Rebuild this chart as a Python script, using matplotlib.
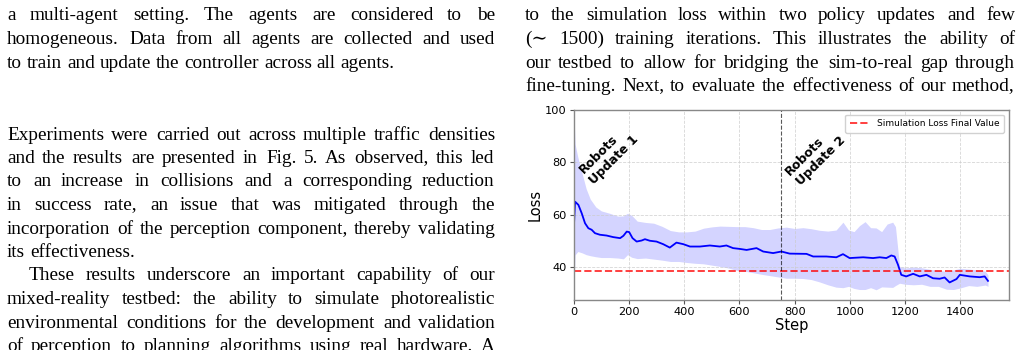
import math
import matplotlib
matplotlib.use('Agg')
import matplotlib.pyplot as plt
from matplotlib.transforms import IdentityTransform
from matplotlib.font_manager import FontProperties

# ---------------- data ----------------
mean_steps = [0, 5, 11, 17, 29, 41, 53, 65, 77, 95, 119, 143, 168, 180, 192,
              201, 213, 228, 246, 258, 276, 300, 324, 348, 372, 397, 421, 457,
              493, 529, 553, 577, 601, 626, 662, 686, 722, 752, 782, 843, 867,
              915, 951, 975, 999, 1048, 1084, 1108, 1132, 1150, 1162, 1174,
              1186, 1204, 1229, 1253, 1277, 1301, 1325, 1343, 1361, 1386, 1398,
              1434, 1470, 1488, 1500]
mean_loss = [54, 65, 64.4, 63.8, 60.6, 56.8, 54.9, 54.3, 53, 52.4, 52.1, 51.5,
             51.1, 52, 53.6, 53.4, 51.1, 49.8, 50.2, 50.7, 50.1, 49.8, 48.8,
             47.5, 49.4, 48.8, 47.9, 47.9, 48.3, 47.9, 48.3, 47.3, 47.0, 46.6,
             47.3, 46.0, 45.4, 46, 45.2, 45.1, 44.1, 44.1, 43.8, 45.0, 43.5,
             43.8, 43.5, 43.8, 43.5, 44.5, 44.1, 41, 37.1, 36.5, 37.5, 36.5,
             37.1, 35.8, 35.6, 36.1, 34.2, 35.5, 37.1, 36.5, 36.2, 36.5, 34.8]

band_steps = [0, 5, 15, 30, 45, 60, 80, 100, 130, 160, 180, 195, 210, 230, 260,
              290, 320, 350, 380, 410, 440, 470, 500, 530, 560, 590, 620, 650,
              680, 710, 740, 770, 800, 830, 860, 890, 920, 950, 975, 995, 1015,
              1035, 1055, 1075, 1095, 1115, 1135, 1155, 1165, 1180, 1200, 1230,
              1260, 1290, 1320, 1350, 1375, 1400, 1430, 1460, 1490, 1500]
band_upper = [102, 87, 82, 76, 70, 66, 63, 61.5, 60.6, 59.5, 59.6, 60.6, 59.8,
              57.6, 57.1, 56.8, 55.6, 54, 53.5, 53.5, 53.8, 54.9, 55.4, 55.7,
              55.6, 55.5, 55.5, 55.1, 54.4, 54.4, 55, 55.3, 54.8, 55.1, 54.7,
              54.1, 53.8, 54.2, 57.2, 54.2, 53.6, 55.9, 57.4, 55.1, 55, 53.6,
              56.5, 57.2, 55.5, 40.3, 39.7, 40.1, 39.8, 39.2, 38.8, 38.4, 39,
              39.6, 39.3, 39, 38.5, 37.1]
band_lower = [30, 44.7, 46, 45.5, 44.8, 44.4, 44, 43.7, 43.7, 43.5, 43.2, 44.8,
              43.8, 43.3, 43.5, 43.1, 42.7, 42.2, 42.2, 41.8, 41.5, 41.3, 40.8,
              40.3, 39.7, 38.8, 38.5, 37.9, 37.3, 36.8, 36.3, 35.8, 35.8, 35.7,
              35.3, 34.4, 33.3, 32.4, 32.2, 32.7, 31.9, 31.5, 31.5, 32.2, 31.4,
              32.5, 32.4, 32.3, 33, 33.9, 33.5, 33.3, 33.5, 32.7, 32.7, 31.6,
              31.5, 32.1, 33, 32.7, 33.2, 32.7]

sim_final_loss = 38.6
update_steps = [750]
update_labels = ["Robots\nUpdate 1", "Robots\nUpdate 2"]
update_label_pos = [(128, 83), (876, 82.5)]
x_ticks = [0, 200, 400, 600, 800, 1000, 1200, 1400]
y_ticks = [40, 60, 80, 100]

left_col_a = [
    ("a multi-agent setting. The agents are considered to be", True, 0),
    ("homogeneous. Data from all agents are collected and used", True, 0),
    ("to train and update the controller across all agents.", False, 0),
]
left_col_b = [
    ("Experiments were carried out across multiple traffic densities", True, 0),
    ("and the results are presented in Fig. 5. As observed, this led", True, 0),
    ("to an increase in collisions and a corresponding reduction", True, 0),
    ("in success rate, an issue that was mitigated through the", True, 0),
    ("incorporation of the perception component, thereby validating", True, 0),
    ("its effectiveness.", False, 0),
    ("These results underscore an important capability of our", True, 22),
    ("mixed-reality testbed: the ability to simulate photorealistic", True, 0),
    ("environmental conditions for the development and validation", True, 0),
    ("of perception to planning algorithms using real hardware. A", True, 0),
]
right_col = [
    ("to the simulation loss within two policy updates and few", True, 0),
    ("(\u223c 1500) training iterations. This illustrates the ability of", True, 0),
    ("our testbed to allow for bridging the sim-to-real gap through", True, 0),
    ("fine-tuning. Next, to evaluate the effectiveness of our method,", True, 0),
]

# ---------------- figure ----------------
W, H = 1022, 350
fig = plt.figure(figsize=(W / 100, H / 100), dpi=100)
renderer = fig.canvas.get_renderer()
BODY_FAMILY = ['Liberation Serif', 'DejaVu Serif']
BODY_SIZE = 13.9
BODY = dict(family=BODY_FAMILY, size=BODY_SIZE, color='black')
IDT = IdentityTransform()
PROP = FontProperties(family=BODY_FAMILY, size=BODY_SIZE)


def text_width(s):
    t = fig.text(0, 0, s, transform=IDT, **BODY)
    w = t.get_window_extent(renderer).width
    t.remove()
    return w


def baseline_shift(word):
    """Offset so that Agg's per-word pixel rounding puts every glyph baseline on the same row."""
    try:
        from matplotlib.font_manager import fontManager, get_font
        from matplotlib.backends.backend_agg import get_hinting_flag
        font = get_font(fontManager._find_fonts_by_props(PROP))
        font.clear()
        font.set_size(PROP.get_size_in_points(), fig.dpi)
        font.set_text(word, 0, flags=get_hinting_flag())
        _, h26 = font.get_width_height()
        d26 = font.get_descent()
        d = d26 / 64.0
        ymax = (h26 - d26) / 64.0
        return math.floor(h26 / 64.0) - math.floor(ymax) - d
    except Exception:
        return 0.0


SPACE = text_width('a a') - text_width('aa')


def draw_line(s, x0, x1, baseline, justify, indent):
    words = s.split(' ')
    widths = [text_width(w) for w in words]
    x0 = x0 + indent
    if justify and len(words) > 1:
        gap = (x1 - x0 - sum(widths)) / (len(words) - 1)
    else:
        gap = SPACE
    x = x0
    bt = round(baseline)
    for w, wd in zip(words, widths):
        ytop = bt + baseline_shift(w)
        fig.text(round(x), H - ytop, w, transform=IDT, ha='left', va='baseline', **BODY)
        x += wd + gap


LS = 23.5
for i, (s, j, ind) in enumerate(left_col_a):
    draw_line(s, 7, 495, 20.5 + i * LS, j, ind)
for i, (s, j, ind) in enumerate(left_col_b):
    draw_line(s, 7, 495, 139.5 + i * LS, j, ind)
for i, (s, j, ind) in enumerate(right_col):
    draw_line(s, 525, 1015, 20.5 + i * LS, j, ind)

# ---------------- chart ----------------
ax = fig.add_axes([573.7 / W, 50 / H, 435 / W, 190 / H])
ax.fill_between(band_steps, band_lower, band_upper, color='blue', alpha=0.17, linewidth=0)
ax.plot(mean_steps, mean_loss, color='blue', linewidth=1.3)
ax.axhline(sim_final_loss, color='red', alpha=0.75, linestyle='--', linewidth=1.4,
           label='Simulation Loss Final Value')
for s in update_steps:
    ax.axvline(s, color='black', alpha=0.65, linestyle='--', linewidth=0.8)
for lab, (px, py) in zip(update_labels, update_label_pos):
    ax.text(px, py, lab, rotation=45, ha='center', va='center', multialignment='left',
            fontsize=9, fontweight='bold', family='DejaVu Sans')

ax.set_xlim(0, 1575)
ax.set_ylim(27.5, 100)
ax.set_xticks(x_ticks)
ax.set_yticks(y_ticks)
ax.tick_params(labelsize=8.2, length=3, width=0.8, color='#555555', pad=2)
ax.grid(True, linestyle='--', color='#cccccc', linewidth=0.6, alpha=0.8)
for sp in ax.spines.values():
    sp.set_color('#888888')
    sp.set_linewidth(1.0)
ax.set_xlabel('Step', fontsize=10.5, labelpad=1)
ax.set_ylabel('Loss', fontsize=10.5, labelpad=2)
leg = ax.legend(loc='upper right', fontsize=6.5, handlelength=2.2, borderpad=0.5,
                framealpha=0.9)

fig.savefig('out.png', dpi=100)
